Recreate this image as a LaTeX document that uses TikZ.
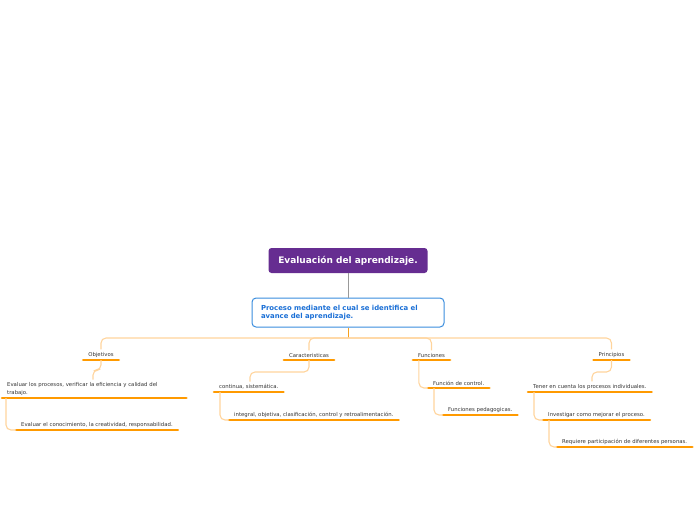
\documentclass[tikz,border=0pt]{standalone}
\usepackage{fontspec}
\setmainfont{DejaVu Sans}
\usepackage{tikz}
\usetikzlibrary{positioning,calc}

\definecolor{rootpurple}{HTML}{662D91}
\definecolor{mainblue}{HTML}{3A8DDE}
\definecolor{maintext}{HTML}{1A6FD6}
\definecolor{lineorange}{HTML}{FF9A00}
\definecolor{linklight}{HTML}{FFD49C}
\definecolor{trunkorange}{HTML}{F7A11E}

\begin{document}
\begin{tikzpicture}[
  x=1pt, y=-1pt,
  root/.style={
    fill=rootpurple, rounded corners=3pt, text=white,
    minimum width=159pt, minimum height=25pt,
    font=\fontsize{9}{10}\selectfont\bfseries
  },
  main/.style={
    draw=mainblue, line width=1pt, fill=white, rounded corners=4pt,
    text width=174pt, minimum height=29pt, inner xsep=9pt,
    text=maintext, align=left,
    font=\fontsize{6.9}{8}\selectfont\bfseries
  },
  topic/.style={
    font=\fontsize{5.35}{7.8}\selectfont, text=black!80,
    inner xsep=5pt, inner ysep=2.5pt, align=left, anchor=south west,
    append after command={
      (\tikzlastnode.south west) edge[uline] (\tikzlastnode.south east)
    }
  },
  branch/.style={topic, anchor=south, align=center},
  uline/.style={draw=lineorange, line width=2.6pt, line cap=round},
  link/.style={draw=linklight, line width=1.1pt, rounded corners=5pt},
  trunk/.style={draw=trunkorange, line width=1pt},
]
\useasboundingbox (0,0) rectangle (696,520);

\node[root] (eval) at (348,260.5) {Evaluación del aprendizaje.};
\node[main] (proc) at (348,312.5)
  {Proceso mediante el cual se identifica el\\avance del aprendizaje.};
\coordinate (hub) at (348,338);

% primer nivel
\node[branch] (obj) at (101,360)   {Objetivos};
\node[branch] (car) at (309,360)   {Caracteristicas};
\node[branch] (fun) at (431.5,360) {Funciones};
\node[branch] (pri) at (611.5,360) {Principios};

% segundo nivel
\node[topic, text width=174pt] (obj1) at (2,398)
  {Evaluar los procesos, verificar la eficiencia y calidad del\\trabajo.};
\node[topic] (obj2) at (16,430)
  {Evaluar el conocimiento, la creatividad, responsabilidad.};
\node[topic] (car1) at (214,392) {continua, sistemática.};
\node[topic] (car2) at (229,420)
  {integral, objetiva, clasificación, control y retroalimentación.};
\node[topic] (fun1) at (428,388) {Función de control.};
\node[topic] (fun2) at (443,415) {Funciones pedagogicas.};
\node[topic] (pri1) at (528,392) {Tener en cuenta los procesos individuales.};
\node[topic] (pri2) at (543,420) {Investigar como mejorar el proceso.};
\node[topic] (pri3) at (557,447) {Requiere participación de diferentes personas.};

\draw[draw=black!40, line width=0.8pt] (eval) -- (proc);
\draw[trunk] (proc) -- (hub);
\draw[link] (hub) -| (obj.north);
\draw[link] (hub) -| (car.north);
\draw[link] (hub) -| (fun.north);
\draw[link] (hub) -| (pri.north);

\draw[link] (obj.south) -- ++(0,10) -| ([xshift=91pt]obj1.north west);
\draw[link] (car.south) -- ++(0,12) -| ([xshift=36pt]car1.north west);
\draw[link] (pri.south) -- ++(0,12) -| ([xshift=64pt]pri1.north west);
\draw[link] ([xshift=6pt]fun.south west) |- (fun1.south west);

\draw[link] ([xshift=4pt]obj1.south west) |- (obj2.south west);
\draw[link] ([xshift=6pt]car1.south west) |- (car2.south west);
\draw[link] ([xshift=6pt]fun1.south west) |- (fun2.south west);
\draw[link] ([xshift=6pt]pri1.south west) |- (pri2.south west);
\draw[link] ([xshift=6pt]pri2.south west) |- (pri3.south west);
\end{tikzpicture}
\end{document}
